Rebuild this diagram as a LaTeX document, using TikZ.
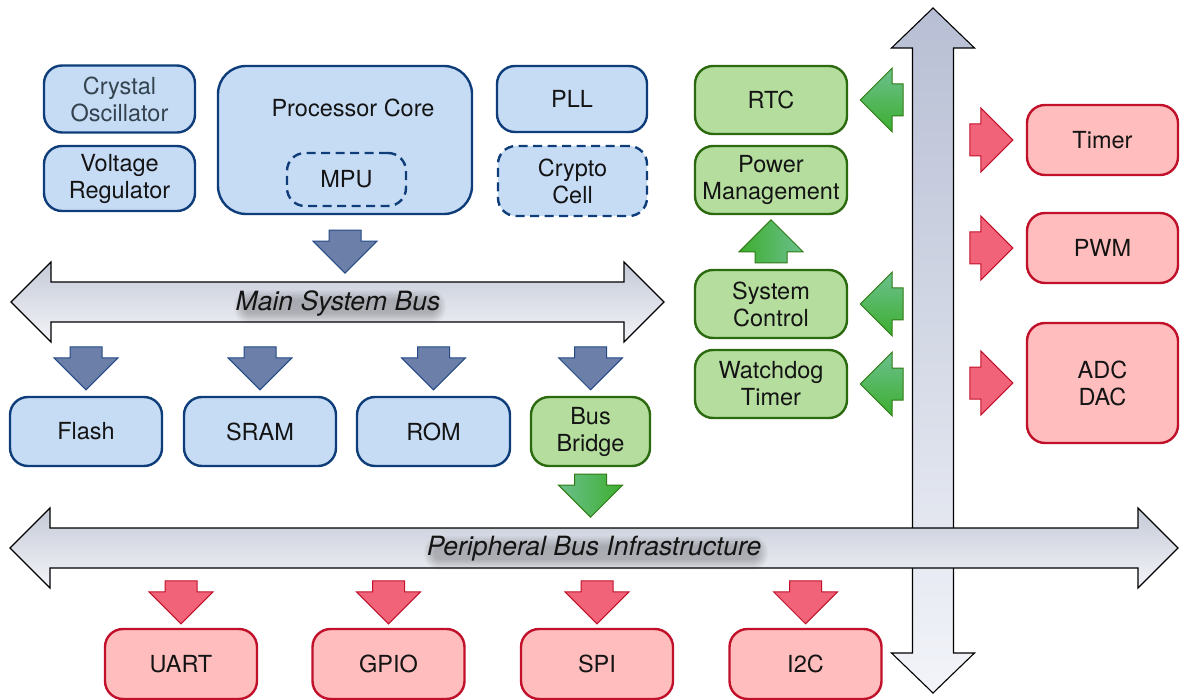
\documentclass[tikz,border=0pt]{standalone}
\usepackage{fontspec}
\setmainfont{TeX Gyre Heros}
\usetikzlibrary{calc}

\definecolor{blueFill}{HTML}{C6DCF5}
\definecolor{blueLine}{HTML}{0F3D7A}
\definecolor{greenFill}{HTML}{B4DD9E}
\definecolor{greenLine}{HTML}{2C6A10}
\definecolor{redFill}{HTML}{FFBDBD}
\definecolor{redLine}{HTML}{C0102A}
\definecolor{redArrow}{HTML}{F06378}
\definecolor{blueArrow}{HTML}{6B7FA9}
\definecolor{blueArrowLine}{HTML}{234A86}
\definecolor{greenTeal}{HTML}{6CC08E}
\definecolor{greenDeep}{HTML}{3CAE2E}
\definecolor{greenArrowLine}{HTML}{2F7A14}
\definecolor{busTop}{HTML}{C5CAD7}
\definecolor{busBottom}{HTML}{F3F4F8}
\definecolor{vbusTop}{HTML}{B8BFD4}
\definecolor{vbusBottom}{HTML}{F2F4F9}
\definecolor{softText}{HTML}{34434F}

\tikzset{
  box/.style={rectangle, rounded corners=18pt, line width=2.4pt, align=center,
    inner sep=0pt, minimum width=151pt, minimum height=67pt,
    font=\fontsize{23.5}{27}\selectfont, text=black!92},
  bluebox/.style={box, draw=blueLine, fill=blueFill},
  greenbox/.style={box, draw=greenLine, fill=greenFill},
  redbox/.style={box, draw=redLine, fill=redFill},
  dashedline/.style={dash pattern=on 9pt off 5.5pt},
  plainlabel/.style={font=\fontsize{23.5}{27}\selectfont, text=black!92},
  buslabel/.style={font=\fontsize{26.5}{30}\selectfont\itshape, text=black!92},
  busbody/.style={draw=black, line width=1.1pt, line join=miter},
  blueflow/.style={fill=blueArrow, draw=blueArrowLine, line width=1pt, line join=miter},
  redflow/.style={fill=redArrow, draw=redLine, line width=1pt, line join=miter},
  greenflow/.style={draw=greenArrowLine, line width=1pt, line join=miter},
  pics/blockarrow/.style={code={
    \path[#1] (0,-16) -- (11,-16) -- (11,-32) -- (43,0) -- (11,32) -- (11,16) -- (0,16) -- cycle;
  }},
}

% soft grey halo under a bus caption: centre, half width of the lettering
\newcommand\halo[2]{%
  \foreach \k in {0,...,6}{
    \fill[black, opacity=0.035, rounded corners={6pt+\k*1.5pt}]
      ($#1+(2,4)+(-#2-\k*1.6,-7-\k*1.6)$) rectangle ($#1+(2,4)+(#2+\k*1.6,7+\k*1.6)$);
  }}

\begin{document}
\begin{tikzpicture}[x=1pt, y=-1pt]
\useasboundingbox (0,0) rectangle (1180,700);

% ---- vertical bus (drawn first, crossed by the peripheral bus) ----
\coordinate (vtop) at (933,8);
\coordinate (vbot) at (933,693);
\path[busbody, top color=vbusTop, bottom color=vbusBottom]
  (vtop) -- ($(vtop)+(41.5,40)$) -- ($(vtop)+(20.5,40)$) -- ($(vbot)+(20.5,-40)$)
  -- ($(vbot)+(41.5,-40)$) -- (vbot) -- ($(vbot)+(-41.5,-40)$) -- ($(vbot)+(-20.5,-40)$)
  -- ($(vtop)+(-20.5,40)$) -- ($(vtop)+(-41.5,40)$) -- cycle;

% ---- main system bus ----
\coordinate (mL) at (11,302);
\coordinate (mR) at (664,302);
\path[busbody, top color=busTop, bottom color=busBottom]
  (mL) -- ($(mL)+(40,-40)$) -- ($(mL)+(40,-20)$) -- ($(mR)+(-40,-20)$) -- ($(mR)+(-40,-40)$)
  -- (mR) -- ($(mR)+(-40,40)$) -- ($(mR)+(-40,20)$) -- ($(mL)+(40,20)$) -- ($(mL)+(40,40)$) -- cycle;
\coordinate (mainc) at (338,303);
\halo{(mainc)}{96}
\node[buslabel] (mainbus) at (mainc) {Main System Bus};

% ---- peripheral bus ----
\coordinate (pL) at (10,548);
\coordinate (pR) at (1178,548);
\path[busbody, top color=busTop, bottom color=busBottom]
  (pL) -- ($(pL)+(40,-40)$) -- ($(pL)+(40,-20)$) -- ($(pR)+(-40,-20)$) -- ($(pR)+(-40,-40)$)
  -- (pR) -- ($(pR)+(-40,40)$) -- ($(pR)+(-40,20)$) -- ($(pL)+(40,20)$) -- ($(pL)+(40,40)$) -- cycle;
\coordinate (perc) at (594,549);
\halo{(perc)}{162}
\node[buslabel] (perbus) at (perc) {Peripheral Bus Infrastructure};

% ---- core cluster ----
\node[bluebox, text=softText] (xtal) at (119.5,99) {Crystal\\Oscillator};
\node[bluebox, minimum height=65pt] (vreg) at (119.5,178.5) {Voltage\\Regulator};
\node[bluebox, minimum width=254pt, minimum height=148pt, rounded corners=28pt] (core) at (345,140) {};
\node[plainlabel] (coretext) at (353,108) {Processor Core};
\node[bluebox, dashedline, minimum width=119pt, minimum height=53pt] (mpu) at (346.5,179.5) {MPU};
\node[bluebox, minimum width=150pt, minimum height=66pt] (pll) at (572,99) {PLL};
\node[bluebox, dashedline, minimum width=149pt, minimum height=70pt] (crypto) at (572.5,181) {Crypto\\Cell};

% ---- memories and bridge ----
\node[bluebox, minimum width=152pt, minimum height=69pt] (flash) at (86,431.5) {Flash};
\node[bluebox, minimum width=152pt, minimum height=69pt] (sram) at (260,431.5) {SRAM};
\node[bluebox, minimum width=153pt, minimum height=69pt] (rom) at (433.5,431.5) {ROM};
\node[greenbox, minimum width=119pt, minimum height=69pt] (bridge) at (590.5,431.5) {Bus\\Bridge};

% ---- system blocks ----
\node[greenbox, minimum width=152pt, minimum height=68pt] (rtc) at (771,100) {RTC};
\node[greenbox, minimum width=152pt, minimum height=68pt] (pwr) at (771,180) {Power\\Management};
\node[greenbox, minimum width=152pt, minimum height=68pt] (sysctl) at (771,304) {System\\Control};
\node[greenbox, minimum width=152pt, minimum height=68pt] (wdt) at (771,384) {Watchdog\\Timer};

% ---- analog / timing peripherals ----
\node[redbox, minimum height=70pt] (timer) at (1102.5,140) {Timer};
\node[redbox, minimum height=70pt] (pwm) at (1102.5,248) {PWM};
\node[redbox, minimum height=120pt] (adc) at (1102.5,383) {ADC\\DAC};

% ---- serial / io peripherals ----
\node[redbox, minimum width=152pt, minimum height=70pt] (uart) at (181,664) {UART};
\node[redbox, minimum width=152pt, minimum height=70pt] (gpio) at (388.5,664) {GPIO};
\node[redbox, minimum width=152pt, minimum height=70pt] (spi) at (597,664) {SPI};
\node[redbox, minimum width=152pt, minimum height=70pt] (i2c) at (805.5,664) {I2C};

% ---- flow arrows ----
\pic[rotate=-90] at ($(core.south)+(0,15)$) {blockarrow=blueflow};
\foreach \n in {flash,sram,rom,bridge}
  \pic[rotate=-90] at ($(\n.north)+(0,-49)$) {blockarrow=blueflow};
\pic[rotate=-90] at ($(bridge.south)+(0,7)$) {blockarrow={greenflow, left color=greenTeal, right color=greenDeep}};
\pic[rotate=90] at ($(sysctl.north)+(0,-6)$) {blockarrow={greenflow, left color=greenDeep, right color=greenTeal}};
\foreach \n in {rtc,sysctl,wdt}
  \pic[rotate=180] at ($(\n.east)+(55,0)$) {blockarrow={greenflow, top color=greenTeal, bottom color=greenDeep}};
\foreach \n in {timer,pwm,adc}
  \pic at ($(\n.west)+(-56,0)$) {blockarrow=redflow};
\foreach \n in {uart,gpio,spi,i2c}
  \pic[rotate=-90] at ($(\n.north)+(0,-47)$) {blockarrow=redflow};

\end{tikzpicture}
\end{document}
